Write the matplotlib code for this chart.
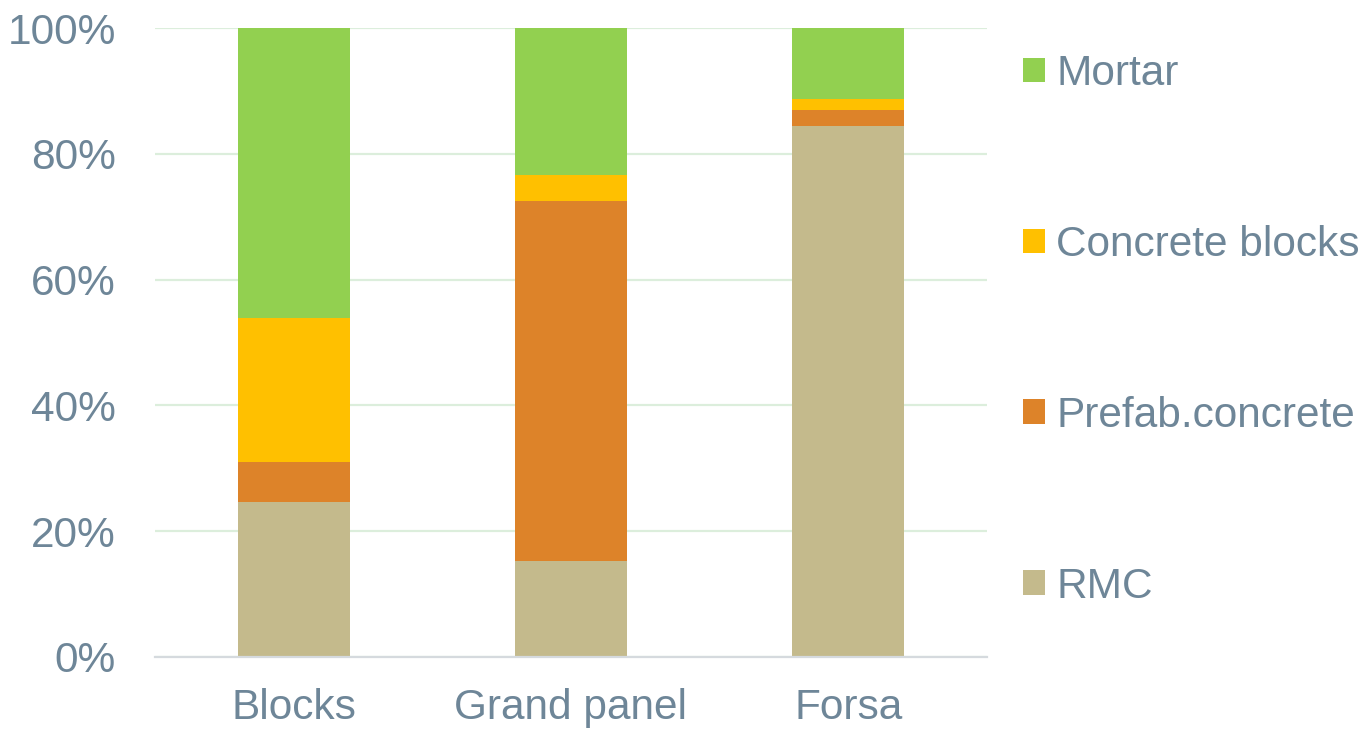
import matplotlib
matplotlib.use("Agg")
import matplotlib.pyplot as plt
from matplotlib.patches import Patch
from matplotlib.ticker import FuncFormatter
import numpy as np

categories = ["Blocks", "Grand panel", "Forsa"]
series_names = ["RMC", "Prefab.concrete", "Concrete blocks", "Mortar"]
rmc = [24.6, 15.3, 84.4]
prefab = [6.4, 57.2, 2.5]
concrete_blocks = [22.9, 4.2, 1.8]
mortar = [46.1, 23.3, 11.3]
y_ticks = [0, 20, 40, 60, 80, 100]

colors = ["#C4BA8C", "#DD8329", "#FFC000", "#92D050"]
text_color = "#6E8698"
fs = 30.5

plt.rcParams["font.family"] = ["Liberation Sans", "DejaVu Sans"]

fig = plt.figure(figsize=(13.65, 7.29), dpi=100)
ax = fig.add_axes([155 / 1365, 1 - 657 / 729, (987 - 155) / 1365, (657 - 28) / 729])

x = np.arange(len(categories))
bottom = np.zeros(len(categories))
handles = []
for name, vals, col in zip(series_names, [rmc, prefab, concrete_blocks, mortar], colors):
    ax.bar(x, vals, width=0.404, bottom=bottom, color=col, zorder=3, linewidth=0)
    bottom += np.array(vals)
    handles.append(Patch(facecolor=col, label=name))

ax.set_xlim(-0.5, 2.5)
ax.set_ylim(0, 100)
ax.set_yticks(y_ticks)
ax.yaxis.set_major_formatter(FuncFormatter(lambda v, p: f"{v:.0f}%"))
ax.set_xticks(x)
ax.set_xticklabels(categories)
ax.grid(axis="y", color="#DCEEDC", linewidth=1.6, zorder=0)
ax.tick_params(axis="both", length=0, labelsize=fs, colors=text_color)
ax.tick_params(axis="y", pad=28)
ax.tick_params(axis="x", pad=22)
for s in ["top", "right", "left"]:
    ax.spines[s].set_visible(False)
ax.spines["bottom"].set_color("#D5DADE")
ax.spines["bottom"].set_linewidth(1.6)
ax.spines["bottom"].set_zorder(4)

leg = fig.legend(handles=handles[::-1], loc="upper left",
                 bbox_to_anchor=(1023 / 1365, 1 - 54 / 729),
                 frameon=False, fontsize=fs, labelcolor=text_color,
                 handlelength=0.52, handleheight=0.52, handletextpad=0.26,
                 labelspacing=3.09, borderaxespad=0, borderpad=0)

fig.savefig("out.png", dpi=100)
